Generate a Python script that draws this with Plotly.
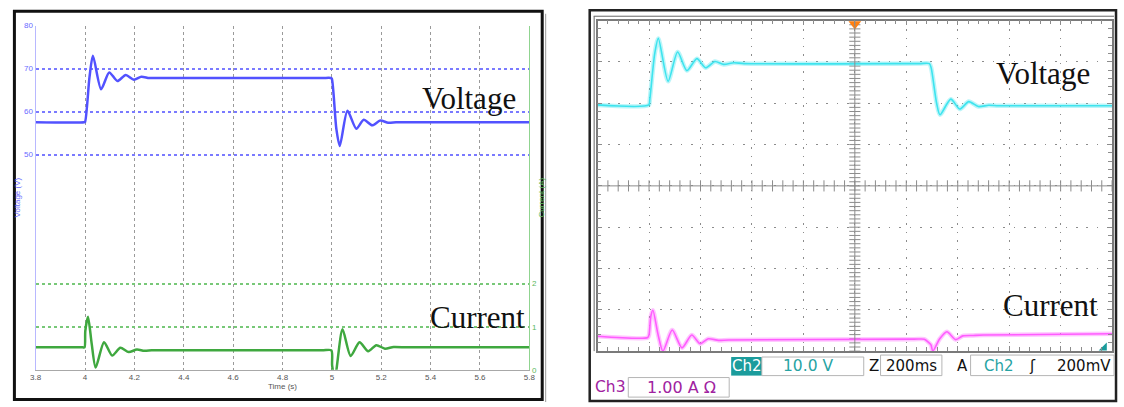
import numpy as np
import plotly.graph_objects as go

W, H = 1124, 407


def px(x):
    return x / W


def py(y):
    return 1 - y / H


# ---------------- Left panel: simulation ----------------
sim_v_t = [3.8, 3.996, 4.0, 4.018, 4.032, 4.065, 4.098, 4.131, 4.165, 4.198, 4.228, 4.26, 4.30,
           4.96, 4.996, 5.0, 5.018, 5.032, 5.063, 5.099, 5.129, 5.163, 5.196, 5.228, 5.26, 5.30, 5.8]
sim_v = [57.5, 57.5, 57.6, 68.0, 73.0, 65.2, 69.1, 67.1, 68.5, 67.4, 68.1, 67.8, 67.8,
         67.8, 67.8, 67.6, 56.0, 52.0, 60.2, 56.0, 58.1, 56.8, 57.9, 57.4, 57.5, 57.5, 57.5]

sim_i_t = [3.8, 3.99, 3.998, 4.001, 4.012, 4.027, 4.043, 4.077, 4.110, 4.143, 4.177, 4.21, 4.24, 4.27,
           4.31, 4.96, 4.998, 5.001, 5.012, 5.043, 5.076, 5.112, 5.147, 5.18, 5.215, 5.25, 5.3,
           5.34, 5.8]
sim_i = [0.52, 0.52, 0.52, 0.9, 1.23, 0.6, 0.05, 0.64, 0.33, 0.51, 0.41, 0.47, 0.44, 0.45,
         0.45, 0.45, 0.45, 0.1, -0.2, 0.94, 0.32, 0.64, 0.43, 0.57, 0.49, 0.53, 0.52,
         0.52, 0.52]

sim_xticks = [3.8, 4.0, 4.2, 4.4, 4.6, 4.8, 5.0, 5.2, 5.4, 5.6, 5.8]
sim_xlabels = ["3.8", "4", "4.2", "4.4", "4.6", "4.8", "5", "5.2", "5.4", "5.6", "5.8"]
sim_vticks = [50, 60, 70, 80]
sim_iticks = [0, 1, 2]

# ---------------- Right panel: oscilloscope (time in ms from left edge) ----------------
scope_v_t = [0, 199, 203, 222, 236, 274, 311, 347, 386, 420, 456, 490, 530, 570,
             1250, 1290, 1297, 1318, 1331, 1373, 1408, 1443, 1480, 1520, 1560, 2000]
scope_v = [59.6, 59.6, 61.0, 72.0, 75.7, 65.3, 72.4, 67.9, 70.8, 68.6, 70.1, 69.4, 69.8, 69.6,
           69.6, 69.6, 68.5, 60.0, 57.2, 61.0, 58.6, 60.4, 59.2, 59.5, 59.4, 59.4]

scope_i_t = [0, 195, 200, 207, 215, 235, 254, 290, 328, 366, 399, 430, 470, 510,
             1230, 1270, 1285, 1296, 1303, 1330, 1358, 1392, 1420, 1460, 1500, 2000]
scope_i = [0.36, 0.33, 0.4, 0.85, 0.99, 0.4, 0.0, 0.51, 0.08, 0.39, 0.18, 0.3, 0.26, 0.27,
           0.29, 0.29, 0.22, 0.15, 0.0, 0.3, 0.47, 0.28, 0.37, 0.38, 0.39, 0.42]

SIM_BLUE = "#5252ff"
SIM_GREEN = "#3fa83f"
CYAN = "#3ee4ee"
MAGENTA = "#ff5cff"
TEAL = "#1b9c9c"
PURPLE = "#a0229f"
GRID = "#8c8c8c"

fig = go.Figure()

# left traces
fig.add_trace(go.Scatter(x=sim_v_t, y=sim_v, xaxis="x", yaxis="y", mode="lines",
                         line=dict(color=SIM_BLUE, width=2.5, shape="spline", smoothing=0.7),
                         hoverinfo="skip", showlegend=False))
fig.add_trace(go.Scatter(x=sim_i_t, y=sim_i, xaxis="x", yaxis="y2", mode="lines",
                         line=dict(color=SIM_GREEN, width=2.5, shape="spline", smoothing=0.7),
                         hoverinfo="skip", showlegend=False))

# scope centre-line ticks
hx = np.arange(0, 2001, 40)
fig.add_trace(go.Scatter(x=hx, y=[40] * len(hx), xaxis="x2", yaxis="y3", mode="markers",
                         marker=dict(symbol="line-ns", size=8, line=dict(width=1, color=GRID)),
                         hoverinfo="skip", showlegend=False))
vy = np.arange(0, 80.1, 1)
fig.add_trace(go.Scatter(x=[1000] * len(vy), y=vy, xaxis="x2", yaxis="y3", mode="markers",
                         marker=dict(symbol="line-ew", size=8, line=dict(width=1, color=GRID)),
                         hoverinfo="skip", showlegend=False))

# scope traces (soft band + core line)
for t, v, ax, col in [(scope_v_t, scope_v, "y3", CYAN), (scope_i_t, scope_i, "y4", MAGENTA)]:
    fig.add_trace(go.Scatter(x=t, y=v, xaxis="x2", yaxis=ax, mode="lines", opacity=0.35,
                             line=dict(color=col, width=4.5, shape="spline", smoothing=0.7),
                             hoverinfo="skip", showlegend=False))
    fig.add_trace(go.Scatter(x=t, y=v, xaxis="x2", yaxis=ax, mode="lines",
                             line=dict(color=col, width=1.6, shape="spline", smoothing=0.7),
                             hoverinfo="skip", showlegend=False))

# scope markers: trigger position, ground reference, trigger level
fig.add_trace(go.Scatter(x=[1000], y=[79.2], xaxis="x2", yaxis="y3", mode="markers",
                         marker=dict(symbol="triangle-down", size=11, color="#ff7f10"),
                         cliponaxis=False, hoverinfo="skip", showlegend=False))
fig.add_trace(go.Scatter(x=[-8], y=[0.2], xaxis="x2", yaxis="y3", mode="markers",
                         marker=dict(symbol="triangle-right", size=9, color=TEAL),
                         cliponaxis=False, hoverinfo="skip", showlegend=False))
fig.add_trace(go.Scatter(x=[1969], y=[0.8], xaxis="x2", yaxis="y3", mode="markers",
                         marker=dict(symbol="triangle-se", size=9, color=TEAL),
                         cliponaxis=False, hoverinfo="skip", showlegend=False))

small = dict(family="Liberation Sans, Arial, sans-serif", size=8)

fig.update_layout(
    width=W, height=H, margin=dict(l=0, r=0, t=0, b=0),
    paper_bgcolor="white", plot_bgcolor="white", hovermode=False,
    xaxis=dict(domain=[px(30), px(529)], range=[3.8, 5.8], anchor="y",
               tickvals=sim_xticks, ticktext=sim_xlabels, ticks="",
               showgrid=True, gridcolor="#9a9a9a", griddash="dot", gridwidth=1,
               showline=True, linecolor="#a8a8a8", linewidth=1, zeroline=False,
               tickfont=dict(small, color="#555"),
               title=dict(text="Time (s)", font=dict(small, color="#555"), standoff=2)),
    yaxis=dict(domain=[py(374), py(22)], range=[0, 80], anchor="x",
               tickvals=sim_vticks, ticks="",
               showgrid=True, gridcolor="#7a7aff", griddash="dot", gridwidth=1.5,
               showline=True, linecolor="#b8b8ff", linewidth=1.2, zeroline=False,
               tickfont=dict(small, color="#6a6aff"),
               title=dict(text="Voltage (V)", font=dict(small, color="#6a6aff"), standoff=2)),
    yaxis2=dict(overlaying="y", side="right", anchor="x", range=[0, 8],
                tickvals=sim_iticks, ticks="",
                showgrid=True, gridcolor="#78c878", griddash="dot", gridwidth=1.5,
                showline=True, linecolor="#90d490", linewidth=1.2, zeroline=False,
                tickfont=dict(small, color="#5cb85c"),
                title=dict(text="Current (A)", font=dict(small, color="#5cb85c"), standoff=2)),
    xaxis2=dict(domain=[px(598), px(1118)], range=[0, 2000], anchor="y3",
                dtick=200, tick0=0, showticklabels=False,
                showgrid=True, gridcolor=GRID, griddash="1.5px,6.95px", gridwidth=1.3,
                showline=True, linecolor="#7a7a7a", linewidth=1.5, mirror="ticks",
                ticks="inside", ticklen=5, tickcolor=GRID, tickwidth=1,
                minor=dict(dtick=40, ticks="inside", ticklen=4, tickcolor=GRID, tickwidth=1),
                zeroline=False),
    yaxis3=dict(domain=[py(355), py(17)], range=[0, 80], anchor="x2",
                dtick=10, tick0=0, showticklabels=False,
                showgrid=True, gridcolor=GRID, griddash="1.5px,8.9px", gridwidth=1.3,
                showline=True, linecolor="#7a7a7a", linewidth=1.5, mirror="ticks",
                ticks="inside", ticklen=5, tickcolor=GRID, tickwidth=1,
                minor=dict(dtick=2, ticks="inside", ticklen=4, tickcolor=GRID, tickwidth=1),
                zeroline=False),
    yaxis4=dict(overlaying="y3", anchor="x2", range=[0, 8], visible=False),
)

shapes = []
# left panel frame
shapes.append(dict(type="rect", xref="paper", yref="paper", x0=px(8.5), x1=px(542), y0=py(404.5), y1=py(7.5),
                   line=dict(color="#111", width=3)))
shapes.append(dict(type="line", xref="paper", yref="paper", x0=px(545.5), x1=px(545.5), y0=py(10), y1=py(407),
                   line=dict(color="#9a9a9a", width=1)))
# scope frame
shapes.append(dict(type="rect", xref="paper", yref="paper", x0=px(590), x1=px(1122), y0=py(406), y1=py(6.5),
                   line=dict(color="#222", width=2.5)))
shapes.append(dict(type="line", xref="paper", yref="paper", x0=px(594), x1=px(1120), y0=py(12.5), y1=py(12.5),
                   line=dict(color="#666", width=1)))
shapes.append(dict(type="line", xref="paper", yref="paper", x0=px(594.5), x1=px(594.5), y0=py(12.5), y1=py(355),
                   line=dict(color="#666", width=1)))
# scope centre cross
shapes.append(dict(type="line", xref="x2", yref="y3", x0=1000, x1=1000, y0=0, y1=80,
                   line=dict(color=GRID, width=1)))
shapes.append(dict(type="line", xref="x2", yref="y3", x0=0, x1=2000, y0=40, y1=40,
                   line=dict(color=GRID, width=1)))
# scope readout boxes
shapes.append(dict(type="rect", xref="paper", yref="paper", x0=px(733), x1=px(764), y0=py(380), y1=py(361),
                   fillcolor=TEAL, line=dict(width=0)))
for x0, x1, y0, y1 in [(764, 867, 361, 380), (884, 946, 359, 380), (975, 1120, 359, 380), (629, 731, 382, 402)]:
    shapes.append(dict(type="rect", xref="paper", yref="paper", x0=px(x0), x1=px(x1), y0=py(y1), y1=py(y0),
                       line=dict(color="#b5b5b5", width=1)))

fig.update_layout(shapes=shapes)

big = dict(family="Liberation Serif, Times New Roman, serif", size=31, color="#111")
scope_font = "DejaVu Sans, sans-serif"
annotations = [
    (468.5, 97, "Voltage", big),
    (476.5, 321, "Current", big),
    (1048, 71, "Voltage", big),
    (1056, 308, "Current", big),
    (748.5, 370.5, "Ch2", dict(family=scope_font, size=15, color="white")),
    (811, 370.5, "10.0 V", dict(family=scope_font, size=15.5, color="#27a3a3")),
    (877, 370, "Z", dict(family=scope_font, size=15, color="#111")),
    (915, 370, "200ms", dict(family=scope_font, size=15, color="#111")),
    (967, 370, "A", dict(family=scope_font, size=15, color="#111")),
    (1004, 370, "Ch2", dict(family=scope_font, size=15, color="#27a3a3")),
    (1038, 370, "ʃ", dict(family=scope_font, size=15, color="#111")),
    (1090, 370, "200mV", dict(family=scope_font, size=15, color="#111")),
    (611, 392, "Ch3", dict(family=scope_font, size=15.5, color=PURPLE)),
    (683, 392, "1.00 A Ω", dict(family=scope_font, size=16, color=PURPLE)),
]
fig.update_layout(annotations=[
    dict(x=px(x), y=py(y), xref="paper", yref="paper", text=t, showarrow=False,
         xanchor="center", yanchor="middle", font=f)
    for x, y, t, f in annotations
])

fig.write_html("out.html", config={"displayModeBar": False},
               post_script="document.body.style.margin='0';document.body.style.overflow='hidden';")
